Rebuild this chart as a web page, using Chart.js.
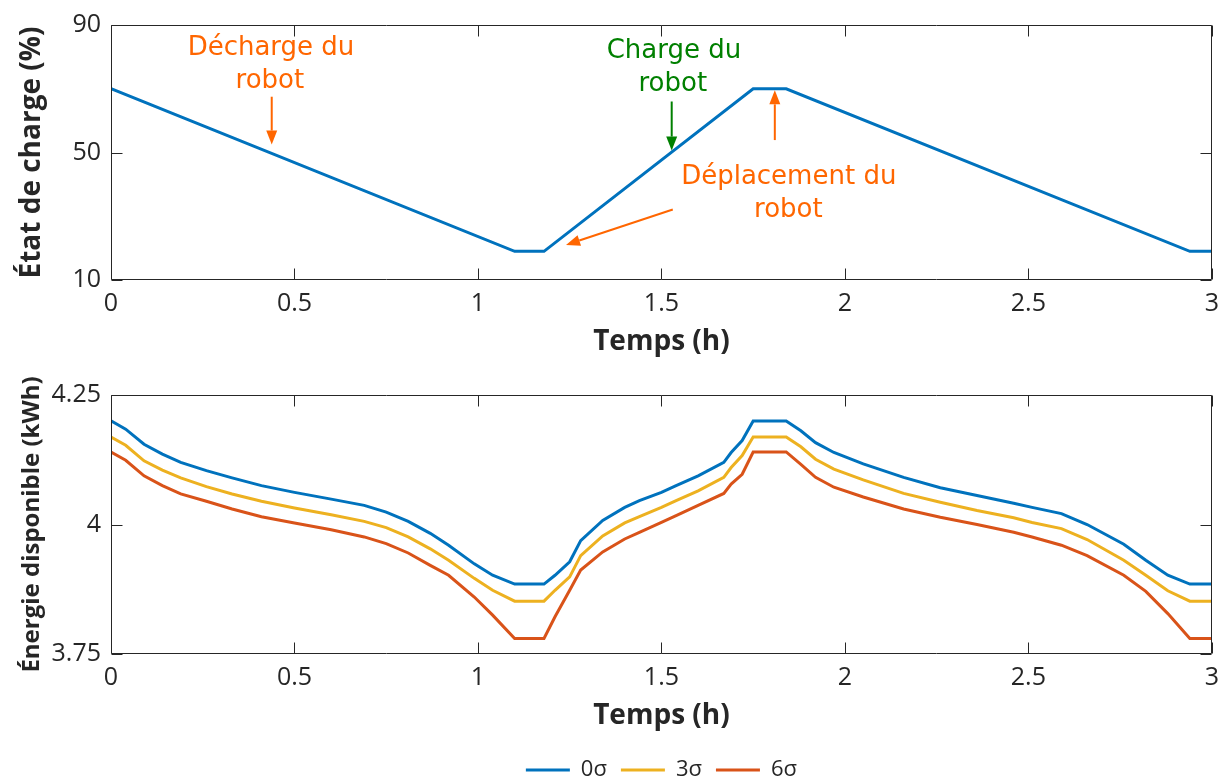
<!DOCTYPE html>
<html>
<head>
<meta charset="utf-8">
<script src="https://cdn.jsdelivr.net/npm/chart.js@4.4.0/dist/chart.umd.min.js"></script>
<style>
  html, body { margin: 0; padding: 0; background: #fff; overflow: hidden; }
  body { width: 1228px; height: 783px; position: relative; }
  canvas { position: absolute; left: 0; }
  #socChart { top: 0; }
  #energyChart { top: 370px; }
</style>
</head>
<body>
<canvas id="socChart" width="1228" height="365"></canvas>
<canvas id="energyChart" width="1228" height="421"></canvas>
<script>
// ticks
const timeTicks = [0, 0.5, 1, 1.5, 2, 2.5, 3];
const socTicks = [10, 50, 90];
const energyTicks = [3.75, 4, 4.25];

// state of charge (%)
const socTime = [0, 1.1, 1.18, 1.75, 1.84, 2.94, 3];
const socValues = [70, 19, 19, 70, 70, 19, 19];

// available energy (kWh)
const energyTime = [0, 0.04, 0.09, 0.14, 0.19, 0.26, 0.33, 0.41, 0.5, 0.6, 0.69, 0.75, 0.81, 0.87, 0.92, 0.99, 1.04, 1.1, 1.18, 1.21, 1.25, 1.28, 1.34, 1.4, 1.44, 1.5, 1.54, 1.6, 1.67, 1.69, 1.72, 1.75, 1.84, 1.88, 1.92, 1.97, 2.05, 2.16, 2.26, 2.36, 2.46, 2.51, 2.59, 2.66, 2.76, 2.82, 2.88, 2.94, 3];
const energy0s = [4.200, 4.184, 4.155, 4.136, 4.120, 4.104, 4.090, 4.075, 4.062, 4.049, 4.037, 4.024, 4.006, 3.983, 3.960, 3.924, 3.902, 3.885, 3.885, 3.902, 3.928, 3.969, 4.008, 4.033, 4.046, 4.062, 4.075, 4.094, 4.120, 4.139, 4.162, 4.200, 4.200, 4.181, 4.158, 4.139, 4.117, 4.091, 4.071, 4.056, 4.041, 4.033, 4.021, 4.000, 3.962, 3.931, 3.902, 3.885, 3.885];
const energy3s = [4.169, 4.153, 4.123, 4.105, 4.090, 4.073, 4.059, 4.045, 4.032, 4.019, 4.006, 3.994, 3.976, 3.953, 3.931, 3.896, 3.873, 3.852, 3.852, 3.873, 3.899, 3.940, 3.978, 4.003, 4.015, 4.033, 4.046, 4.065, 4.091, 4.110, 4.133, 4.169, 4.169, 4.150, 4.126, 4.107, 4.086, 4.060, 4.043, 4.027, 4.013, 4.004, 3.992, 3.971, 3.931, 3.902, 3.872, 3.852, 3.852];
const energy6s = [4.140, 4.124, 4.094, 4.075, 4.059, 4.045, 4.030, 4.015, 4.003, 3.990, 3.976, 3.963, 3.945, 3.921, 3.902, 3.860, 3.825, 3.780, 3.780, 3.822, 3.873, 3.912, 3.947, 3.972, 3.985, 4.004, 4.017, 4.037, 4.060, 4.078, 4.097, 4.140, 4.140, 4.116, 4.091, 4.072, 4.053, 4.030, 4.014, 4.000, 3.985, 3.976, 3.960, 3.940, 3.902, 3.871, 3.828, 3.780, 3.780];
const seriesNames = ['0σ', '3σ', '6σ'];

const colors = ['#0072BD', '#EDB120', '#D95319'];
const axisColor = '#262626';
const orange = '#FF6600';
const green = '#008000';

// annotations, in data units (time h, %)
const noteTexts = [
    { text: 'Décharge du', x: 0.436, y: 82.6, color: orange },
    { text: 'robot', x: 0.433, y: 72.5, color: orange },
    { text: 'Charge du', x: 1.534, y: 81.7, color: green },
    { text: 'robot', x: 1.531, y: 71.5, color: green },
    { text: 'Déplacement du', x: 1.847, y: 42.3, color: orange },
    { text: 'robot', x: 1.846, y: 31.8, color: orange }
];
const noteArrows = [
    { from: [0.438, 67.5], to: [0.438, 52.5], color: orange },
    { from: [1.528, 66.0], to: [1.528, 50.6], color: green },
    { from: [1.809, 53.9], to: [1.809, 69.5], color: orange },
    { from: [1.531, 32.1], to: [1.240, 21.0], color: orange }
];

const toPoints = (xs, ys) => xs.map((x, i) => ({ x: x, y: ys[i] }));

// box + inward ticks, matlab style
const frameBox = {
    id: 'frameBox',
    afterDraw(chart) {
        const { ctx, chartArea: a, scales } = chart;
        const L = Math.round(a.left) + 0.5, R = Math.round(a.right) - 0.5;
        const T = Math.round(a.top) + 0.5, B = Math.round(a.bottom) - 0.5;
        ctx.save();
        ctx.strokeStyle = axisColor;
        ctx.lineWidth = 1;
        ctx.beginPath();
        ctx.moveTo(L, T); ctx.lineTo(R, T); ctx.lineTo(R, B); ctx.lineTo(L, B); ctx.closePath();
        const len = 11;
        scales.x.ticks.forEach(t => {
            const px = Math.round(scales.x.getPixelForValue(t.value)) + 0.5;
            ctx.moveTo(px, B); ctx.lineTo(px, B - len);
            ctx.moveTo(px, T); ctx.lineTo(px, T + len);
        });
        scales.y.ticks.forEach(t => {
            const py = Math.round(scales.y.getPixelForValue(t.value)) + 0.5;
            ctx.moveTo(L, py); ctx.lineTo(L + len, py);
            ctx.moveTo(R, py); ctx.lineTo(R - len, py);
        });
        ctx.stroke();
        ctx.restore();
    }
};

const notes = {
    id: 'notes',
    afterDatasetsDraw(chart) {
        const { ctx, scales: { x, y } } = chart;
        ctx.save();
        ctx.font = '26px "DejaVu Sans"';
        ctx.textAlign = 'center';
        ctx.textBaseline = 'middle';
        noteTexts.forEach(n => {
            ctx.fillStyle = n.color;
            ctx.fillText(n.text, x.getPixelForValue(n.x), y.getPixelForValue(n.y));
        });
        noteArrows.forEach(a => {
            const x0 = x.getPixelForValue(a.from[0]), y0 = y.getPixelForValue(a.from[1]);
            const x1 = x.getPixelForValue(a.to[0]), y1 = y.getPixelForValue(a.to[1]);
            const ang = Math.atan2(y1 - y0, x1 - x0);
            const head = 14, half = 5.5;
            const bx = x1 - head * Math.cos(ang), by = y1 - head * Math.sin(ang);
            ctx.strokeStyle = a.color;
            ctx.fillStyle = a.color;
            ctx.lineWidth = 2;
            ctx.beginPath();
            ctx.moveTo(x0, y0); ctx.lineTo(bx, by);
            ctx.stroke();
            ctx.beginPath();
            ctx.moveTo(x1, y1);
            ctx.lineTo(bx + half * Math.sin(ang), by - half * Math.cos(ang));
            ctx.lineTo(bx - half * Math.sin(ang), by + half * Math.cos(ang));
            ctx.closePath();
            ctx.fill();
        });
        ctx.restore();
    }
};

const tickFont = { family: 'Open Sans', size: 25 };

function xAxis(height, titlePad) {
    return {
        type: 'linear', min: 0, max: 3,
        afterBuildTicks: s => { s.ticks = timeTicks.map(v => ({ value: v })); },
        afterFit: s => { s.height = height; },
        grid: { display: false, drawTicks: false }, border: { display: false },
        ticks: { font: tickFont, color: axisColor, padding: 9, maxRotation: 0, autoSkip: false, callback: v => String(v) },
        title: { display: true, text: 'Temps (h)', color: axisColor, font: { family: 'Open Sans', size: 28, weight: 'bold' }, padding: { top: 0, bottom: titlePad } }
    };
}

function yAxis(min, max, ticks, label, labelSize, labelPad) {
    return {
        type: 'linear', min: min, max: max,
        afterBuildTicks: s => { s.ticks = ticks.map(v => ({ value: v })); },
        afterFit: s => { s.width = 111; },
        grid: { display: false, drawTicks: false }, border: { display: false },
        ticks: { font: tickFont, color: axisColor, padding: 10, callback: v => String(v) },
        title: { display: true, text: label, color: axisColor, font: { family: 'Open Sans', size: labelSize, weight: 'bold' }, padding: { top: labelPad, bottom: 0 } }
    };
}

new Chart(document.getElementById('socChart'), {
    type: 'line',
    data: {
        datasets: [{
            label: 'État de charge',
            data: toPoints(socTime, socValues),
            borderColor: colors[0],
            backgroundColor: colors[0],
            borderWidth: 3,
            pointRadius: 0,
            tension: 0
        }]
    },
    options: {
        responsive: false,
        animation: false,
        devicePixelRatio: 1,
        layout: { padding: { top: 20, right: 16, left: 0, bottom: 0 } },
        plugins: { legend: { display: false }, tooltip: { enabled: false } },
        scales: {
            x: xAxis(85, 6),
            y: yAxis(10, 90, socTicks, 'État de charge (%)', 28, 15)
        }
    },
    plugins: [notes, frameBox]
});

const energySeries = [energy0s, energy3s, energy6s];
new Chart(document.getElementById('energyChart'), {
    type: 'line',
    data: {
        datasets: energySeries.map((vals, i) => ({
            label: seriesNames[i],
            data: toPoints(energyTime, vals),
            borderColor: colors[i],
            backgroundColor: colors[i],
            borderWidth: 3,
            pointRadius: 0,
            tension: 0
        }))
    },
    options: {
        responsive: false,
        animation: false,
        devicePixelRatio: 1,
        layout: { padding: { top: 24, right: 16, left: 0, bottom: 0 } },
        plugins: {
            tooltip: { enabled: false },
            legend: {
                display: true,
                position: 'bottom',
                fullSize: false,
                labels: {
                    usePointStyle: true,
                    pointStyle: 'line',
                    pointStyleWidth: 44,
                    color: axisColor,
                    font: { family: 'Open Sans', size: 22 },
                    padding: 14
                }
            }
        },
        scales: {
            x: xAxis(91, 12),
            y: yAxis(3.75, 4.25, energyTicks, 'Énergie disponible (kWh)', 24, 18)
        }
    },
    plugins: [frameBox]
});
</script>
</body>
</html>
